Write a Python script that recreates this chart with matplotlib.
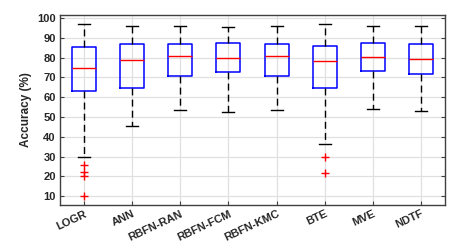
import matplotlib
matplotlib.use("Agg")
import matplotlib.pyplot as plt

plt.rcParams['font.family'] = ['Liberation Sans', 'DejaVu Sans']

categories = ["LOGR", "ANN", "RBFN-RAN", "RBFN-FCM", "RBFN-KMC", "BTE", "MVE", "NDTF"]
whislo = [29.6, 45.2, 53.3, 52.3, 53.5, 36.3, 53.8, 53.1]
q1 = [63.1, 64.6, 70.7, 72.7, 70.7, 64.4, 73.4, 71.5]
med = [74.6, 78.9, 80.6, 79.6, 80.6, 78.1, 80.1, 79.4]
q3 = [85.5, 86.7, 87.0, 87.4, 87.0, 86.0, 87.4, 87.0]
whishi = [97.0, 96.1, 96.0, 95.6, 96.0, 97.1, 96.0, 96.0]
fliers = [[26.0, 22.0, 20.2, 10.0], [], [], [], [], [29.6, 21.6], [], []]
yticks = [10, 20, 30, 40, 50, 60, 70, 80, 90, 100]

stats = []
for i, c in enumerate(categories):
    stats.append(dict(label=c, whislo=whislo[i], q1=q1[i], med=med[i], q3=q3[i],
                      whishi=whishi[i], fliers=fliers[i]))

fig = plt.figure(figsize=(4.63, 2.45), dpi=100)
ax = fig.add_axes([60/463, 1 - 204.5/245, 385/463, 189.5/245])

positions = list(range(1, len(categories) + 1))
ax.bxp(stats, positions=positions, widths=0.5, capwidths=0.25,
       boxprops=dict(color='#0000ff', linewidth=1.1),
       medianprops=dict(color='#ff0000', linewidth=1.0),
       whiskerprops=dict(color='black', linestyle=(0, (5, 3)), linewidth=1.0),
       capprops=dict(color='black', linewidth=1.0),
       flierprops=dict(marker='+', markeredgecolor='#ff0000', markersize=6, markeredgewidth=1.0,
                       linestyle='none'),
       zorder=3)

ax.set_xlim(0.5, 8.5)
ax.set_ylim(5.8, 101.5)
ax.set_yticks(yticks)
ax.set_xticks(positions)
ax.set_xticklabels(categories, rotation=25, ha='right', rotation_mode='anchor',
                   fontsize=8, fontweight='bold', color='#262626')
for lab in ax.get_yticklabels():
    lab.set_fontsize(8)
    lab.set_fontweight('bold')
    lab.set_color('#262626')
ax.set_ylabel('Accuracy (%)', fontsize=8.5, fontweight='bold', color='#262626')
ax.grid(True, color='#e0e0e0', linewidth=0.9, zorder=0)
ax.set_axisbelow(True)
ax.tick_params(direction='in', length=3, width=0.8, color='#404040', right=True, top=False, pad=3)
for s in ax.spines.values():
    s.set_color('#404040')
    s.set_linewidth(1.0)

fig.savefig('out.png', dpi=100)
